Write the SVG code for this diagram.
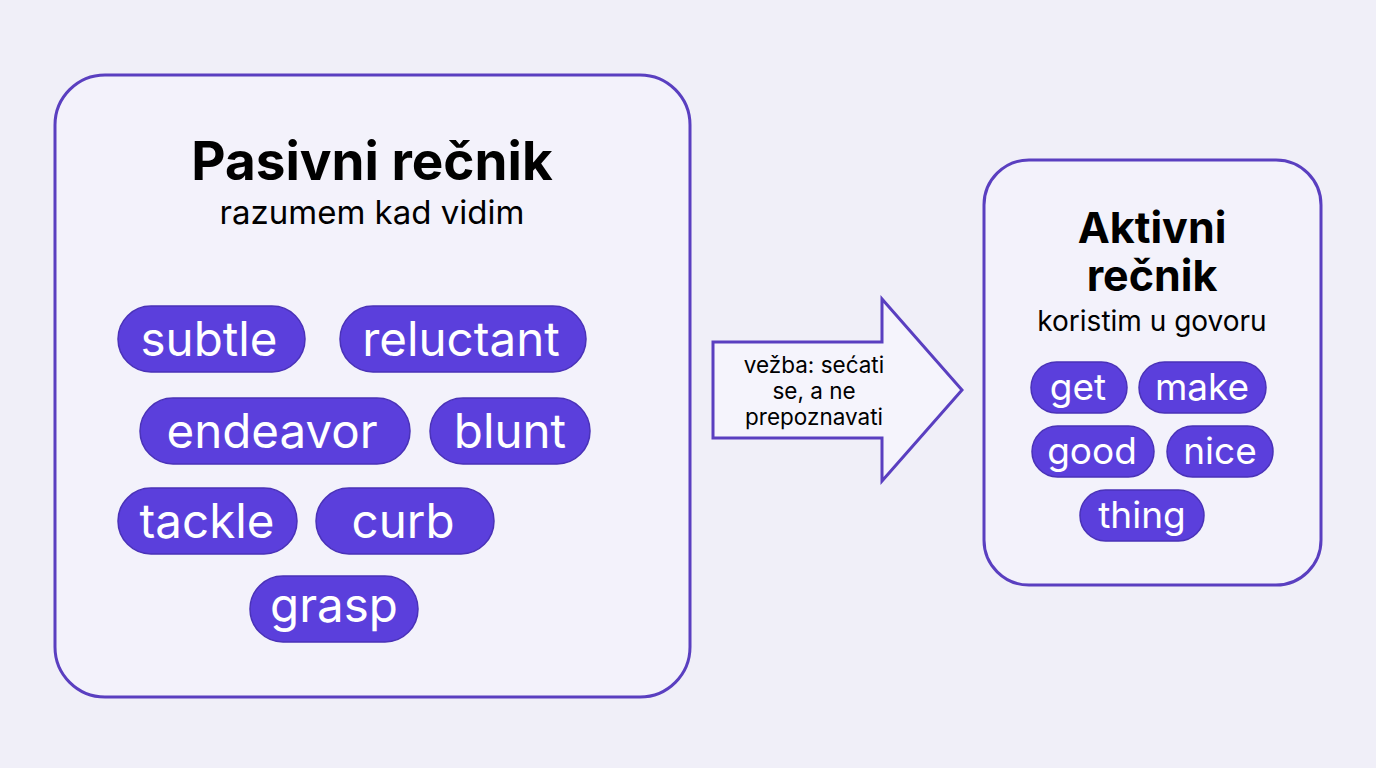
<svg xmlns="http://www.w3.org/2000/svg" width="1376" height="768" viewBox="0 0 1376 768">
<style>
.box{fill:#f3f2fb;stroke:#5a3fc0;stroke-width:3}
.pill{fill:#5b3fdc;stroke:#4a32b8;stroke-width:1.5}
.pt{font-family:Inter,"Noto Sans",sans-serif;fill:#ffffff;text-anchor:middle}
.t{font-family:Inter,"Noto Sans",sans-serif;fill:#000;text-anchor:middle}
.b{font-weight:700}
.lp{font-size:47.5px}
.rp{font-size:37px}
</style>
<rect width="1376" height="768" fill="#f0eff8"/>
<g id="pasivni">
<rect class="box" x="55" y="75" width="635" height="622" rx="50"/>
<text class="t b" x="372" y="180" font-size="53">Pasivni rečnik</text>
<text class="t" x="372" y="224" font-size="33">razumem kad vidim</text>
</g>
<g id="p-subtle"><rect class="pill" x="118" y="306" width="187" height="66" rx="33"/><text class="pt lp" x="209" y="356">subtle</text></g>
<g id="p-reluctant"><rect class="pill" x="340" y="306" width="246" height="66" rx="33"/><text class="pt lp" x="461" y="356">reluctant</text></g>
<g id="p-endeavor"><rect class="pill" x="140" y="398" width="270" height="66" rx="33"/><text class="pt lp" x="272" y="448">endeavor</text></g>
<g id="p-blunt"><rect class="pill" x="430" y="398" width="160" height="66" rx="33"/><text class="pt lp" x="510" y="448">blunt</text></g>
<g id="p-tackle"><rect class="pill" x="118" y="488" width="179" height="66" rx="33"/><text class="pt lp" x="207" y="538">tackle</text></g>
<g id="p-curb"><rect class="pill" x="316" y="488" width="178" height="66" rx="33"/><text class="pt lp" x="403" y="538">curb</text></g>
<g id="p-grasp"><rect class="pill" x="250" y="576" width="168" height="66" rx="33"/><text class="pt lp" x="334" y="622">grasp</text></g>
<g id="connectors">
<path d="M713,342 L882,342 L882,299 L962,390 L882,481 L882,438 L713,438 Z" fill="#f5f4fc" stroke="#5a3fc0" stroke-width="3" stroke-linejoin="miter"/>
<text class="t" x="814" y="373" font-size="22.5">vežba: sećati</text>
<text class="t" x="814" y="399" font-size="22.5">se, a ne</text>
<text class="t" x="814" y="425" font-size="22.5">prepoznavati</text>
</g>
<g id="aktivni">
<rect class="box" x="984" y="160" width="337" height="425" rx="45"/>
<text class="t b" x="1152" y="243" font-size="43">Aktivni</text>
<text class="t b" x="1152" y="291" font-size="43">rečnik</text>
<text class="t" x="1152" y="331" font-size="28">koristim u govoru</text>
</g>
<g id="a-get"><rect class="pill" x="1031" y="362" width="96" height="51" rx="25.5"/><text class="pt rp" x="1078" y="400">get</text></g>
<g id="a-make"><rect class="pill" x="1139" y="362" width="127" height="51" rx="25.5"/><text class="pt rp" x="1202" y="400">make</text></g>
<g id="a-good"><rect class="pill" x="1032" y="426" width="122" height="51" rx="25.5"/><text class="pt rp" x="1092" y="464">good</text></g>
<g id="a-nice"><rect class="pill" x="1167" y="426" width="106" height="51" rx="25.5"/><text class="pt rp" x="1220" y="464">nice</text></g>
<g id="a-thing"><rect class="pill" x="1080" y="490" width="124" height="51" rx="25.5"/><text class="pt rp" x="1142" y="528">thing</text></g>
</svg>
